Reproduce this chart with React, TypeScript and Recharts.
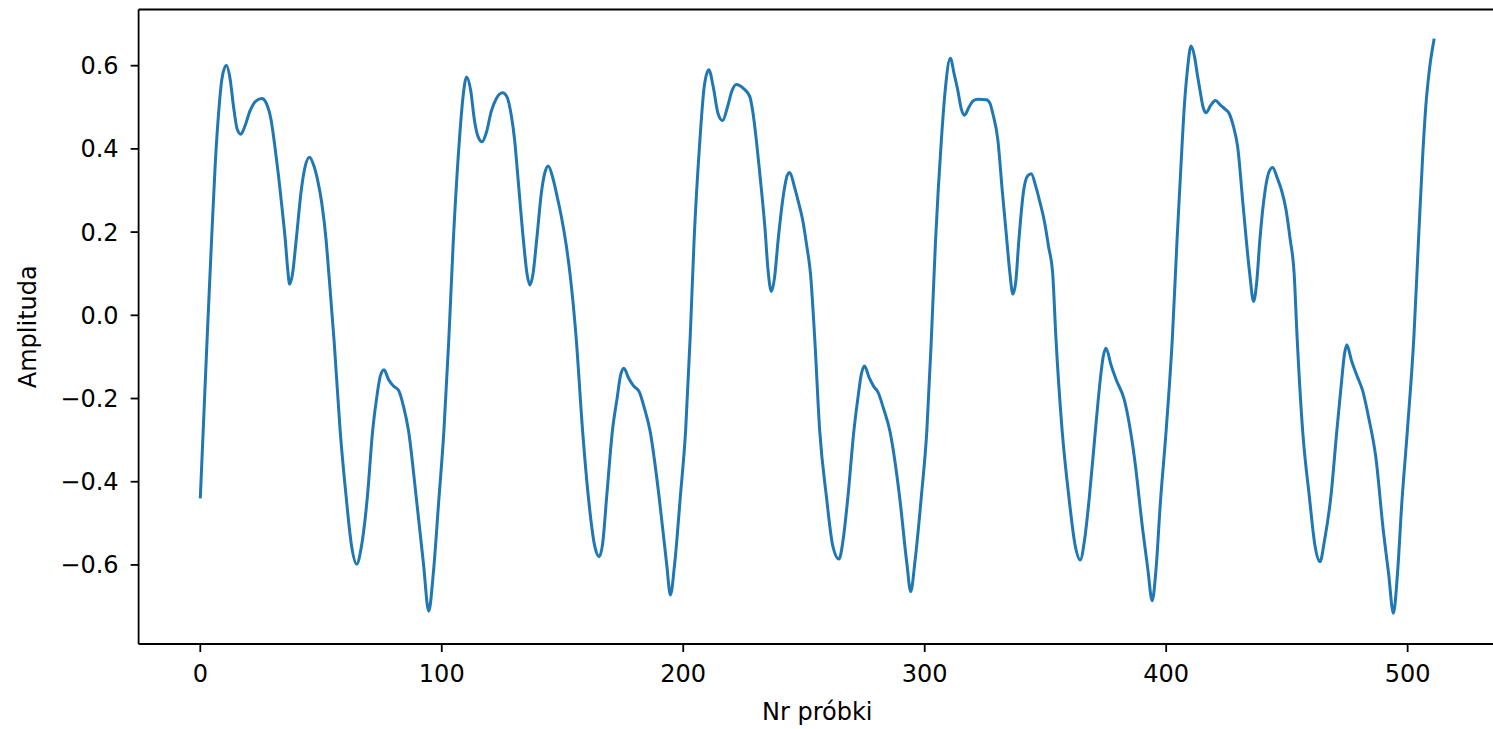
import { LineChart, Line, XAxis, YAxis, ReferenceLine } from "recharts";

// sample index (x) and amplitude (y)
const sampleNr = [
  0, 1.4, 2.8, 4.5, 6.2, 7.5, 9, 10.8, 12.3, 13.8, 15.3, 16.8, 18.5, 20.5, 23, 25.5, 27.3, 29.3, 30.8, 32.4,
  33.8, 35.2, 36.1, 37, 38.2, 39.7, 41.8, 43.4, 45.2, 47, 48.7, 50.3, 52.1, 53.1, 55.4, 57.9, 60.4, 62.7,
  64.8, 66.6, 69.2, 71.4, 73.1, 74.6, 76.1, 78, 80, 82.1, 84.2, 86.2, 89.4, 92.4, 94.6, 96.5, 98.7, 100.9,
  102.9, 104.8, 107.3, 108.9, 110.3,
  112, 113.5, 115, 116.7, 118.5, 120.5, 122.5, 125.2, 127, 128.8, 130.2, 131.4, 133.8, 135.3, 136.5, 137.8,
  139.3, 141.4, 142.8, 144.1, 146, 147.8, 149.6, 151.5, 153.1, 155.6, 158.3, 160.7, 163.4, 165.2, 166.6,
  168.3, 170.7, 172.7, 174, 175.4, 177.3, 179.5, 181.8, 184, 186.2, 190, 193.1, 194.7, 196.4, 198.8, 201,
  202.9,
  204.5, 206.9, 208.7, 210.6, 212.4, 214.4, 216.3, 218.3, 220.2, 222, 225, 227.6, 228.8, 230.3, 231.7,
  233.8, 235.1, 236.5, 237.8, 239.3, 241.8, 243, 244.1, 246, 247.8, 249.6, 251.2, 252.7, 254.4, 256.5,
  259.3, 262, 264.5, 266.2, 268.2, 270.7, 272.4, 273.8, 275.1, 277, 279, 280.6, 283, 285.5, 289.6, 292.6,
  294.2, 296, 298.6, 300.9, 302.8,
  304.5, 306.9, 308.5, 310.6, 312.2, 313.7, 315.2, 316.5, 318.3, 320, 322, 325.5, 327, 328.2, 330.3, 332.1,
  334, 335.3, 336.5, 337.7, 339, 341, 342.6, 344.1, 346, 347.8, 349.6, 351.3, 353, 354.3, 356.9, 359.7,
  362.4, 364.4, 366.2, 368.2, 370.7, 372.7, 373.9, 375.1, 377.2, 379.3, 382.7, 386.8, 390.3, 392.4, 394.2,
  395.8, 397.6, 400, 402.6,
  404.5, 406.1, 407.5, 408.8, 410.3, 411.8, 413, 414, 415.3, 416.5, 418.5, 420.4, 422.5, 424.5, 426.1,
  427.8, 429.6, 431.9, 434.6, 436.2, 437.5, 438.8, 441, 442.6, 444.1, 446, 447.8, 449.6, 451.3, 453,
  454.2, 456.5, 459.3, 461.7, 463.7, 465.6, 468.2, 470.7, 472.7, 473.8, 474.8, 476.8, 479.2, 481.3, 484,
  486.8, 489.9, 492.1, 494.1, 495.8, 497.6, 499.9, 502.6, 504.5, 506.2, 507.5, 509, 511,
];

const amplitude = [
  -0.44, -0.25, -0.06, 0.16, 0.365, 0.48, 0.57, 0.601, 0.57, 0.5, 0.447, 0.435, 0.455, 0.49, 0.515, 0.521,
  0.51, 0.47, 0.41, 0.335, 0.261, 0.181, 0.117, 0.075, 0.1, 0.18, 0.3, 0.357, 0.38, 0.36, 0.322, 0.27,
  0.181, 0.11, -0.06, -0.276, -0.436, -0.556, -0.598, -0.56, -0.436, -0.276, -0.196, -0.145, -0.131, -0.155,
  -0.17, -0.18, -0.22, -0.276, -0.436, -0.596, -0.711, -0.62, -0.45, -0.276, -0.06, 0.181, 0.421, 0.53,
  0.573,
  0.54, 0.47, 0.43, 0.417, 0.44, 0.49, 0.52, 0.535, 0.525, 0.48, 0.42, 0.341, 0.181, 0.1, 0.073, 0.1, 0.181,
  0.301, 0.345, 0.359, 0.33, 0.285, 0.235, 0.17, 0.1, -0.05, -0.276, -0.436, -0.556, -0.58, -0.55, -0.436,
  -0.276, -0.196, -0.145, -0.127, -0.15, -0.17, -0.184, -0.225, -0.276, -0.436, -0.596, -0.672, -0.6,
  -0.436, -0.276, -0.05,
  0.181, 0.421, 0.55, 0.59, 0.55, 0.485, 0.468, 0.5, 0.54, 0.555, 0.545, 0.525, 0.49, 0.42, 0.341, 0.213,
  0.11, 0.057, 0.09, 0.181, 0.301, 0.335, 0.343, 0.31, 0.27, 0.225, 0.165, 0.1, -0.05, -0.276, -0.436,
  -0.556, -0.586, -0.54, -0.436, -0.276, -0.196, -0.14, -0.122, -0.15, -0.172, -0.184, -0.225, -0.276,
  -0.436, -0.596, -0.664, -0.59, -0.436, -0.276, -0.05,
  0.181, 0.421, 0.541, 0.618, 0.58, 0.541, 0.495, 0.481, 0.5, 0.515, 0.519, 0.518, 0.51, 0.485, 0.421,
  0.301, 0.181, 0.1, 0.051, 0.08, 0.181, 0.301, 0.335, 0.34, 0.31, 0.27, 0.225, 0.165, 0.1, -0.05, -0.276,
  -0.436, -0.556, -0.588, -0.54, -0.436, -0.276, -0.155, -0.1, -0.079, -0.12, -0.155, -0.204, -0.34,
  -0.516, -0.61, -0.686, -0.61, -0.45, -0.276, -0.05,
  0.181, 0.357, 0.501, 0.59, 0.647, 0.62, 0.575, 0.541, 0.5, 0.487, 0.505, 0.516, 0.505, 0.495, 0.485,
  0.455, 0.405, 0.261, 0.1, 0.033, 0.08, 0.181, 0.301, 0.345, 0.355, 0.33, 0.3, 0.255, 0.185, 0.1, -0.05,
  -0.276, -0.436, -0.556, -0.592, -0.54, -0.436, -0.276, -0.155, -0.095, -0.071, -0.11, -0.148, -0.18,
  -0.25, -0.34, -0.516, -0.62, -0.716, -0.62, -0.45, -0.276, -0.05, 0.181, 0.38, 0.501, 0.59, 0.665,
];

const xTicks = [0, 100, 200, 300, 400, 500];
const yTicks = [-0.6, -0.4, -0.2, 0, 0.2, 0.4, 0.6];

const X_DOMAIN: [number, number] = [-25.55, 536.55];
const Y_DOMAIN: [number, number] = [-0.79, 0.735];

const FONT = "'DejaVu Sans', sans-serif";
const INK = "#000";
const LINE = "#1f77b4";

// layout (matplotlib-like figure)
const W = 1500;
const H = 729;
const Y_AXIS_W = 138.6;
const X_AXIS_H = 85;
const TOP = 9.5;
const RIGHT = 4.1;
const PLOT_W = W - Y_AXIS_W - RIGHT;
const PLOT_H = H - TOP - X_AXIS_H;

const data = sampleNr.map((x, i) => ({ x, y: amplitude[i] }));

const fmtY = (v: number) => v.toFixed(1).replace("-", "\u2212");

const tickStyle = { fill: INK, fontSize: 24, fontFamily: FONT };

const YTitle = () => {
  const cx = 35.7;
  const cy = TOP + PLOT_H / 2;
  return (
    <text
      x={cx}
      y={cy}
      transform={`rotate(-90 ${cx} ${cy})`}
      textAnchor="middle"
      fontFamily={FONT}
      fontSize={24}
      fill={INK}
    >
      Amplituda
    </text>
  );
};

const XTitle = () => (
  <text
    x={Y_AXIS_W + PLOT_W / 2}
    y={720}
    textAnchor="middle"
    fontFamily={FONT}
    fontSize={24}
    fill={INK}
  >
    Nr próbki
  </text>
);

export default function App() {
  return (
    <div
      style={{
        position: "fixed",
        left: 0,
        top: 0,
        width: 1493,
        height: H,
        overflow: "hidden",
        background: "#fff",
      }}
    >
      <LineChart
        width={W}
        height={H}
        data={data}
        margin={{ top: TOP, right: RIGHT, bottom: 0, left: 0 }}
      >
        <XAxis
          dataKey="x"
          type="number"
          domain={X_DOMAIN}
          ticks={xTicks}
          height={X_AXIS_H}
          tick={tickStyle}
          tickSize={8}
          tickMargin={13}
          axisLine={{ stroke: INK, strokeWidth: 1.8 }}
          tickLine={{ stroke: INK, strokeWidth: 1.8 }}
          label={{ content: () => <XTitle /> }}
        />
        <YAxis
          type="number"
          domain={Y_DOMAIN}
          ticks={yTicks}
          width={Y_AXIS_W}
          tick={tickStyle}
          tickFormatter={fmtY}
          tickSize={8}
          tickMargin={12}
          axisLine={{ stroke: INK, strokeWidth: 1.8 }}
          tickLine={{ stroke: INK, strokeWidth: 1.8 }}
          label={{ content: () => <YTitle /> }}
        />
        <ReferenceLine y={Y_DOMAIN[1]} stroke={INK} strokeWidth={1.8} />
        <ReferenceLine x={X_DOMAIN[1]} stroke={INK} strokeWidth={1.8} />
        <Line
          type="monotone"
          dataKey="y"
          stroke={LINE}
          strokeWidth={3}
          dot={false}
          activeDot={false}
          isAnimationActive={false}
        />
      </LineChart>
    </div>
  );
}
